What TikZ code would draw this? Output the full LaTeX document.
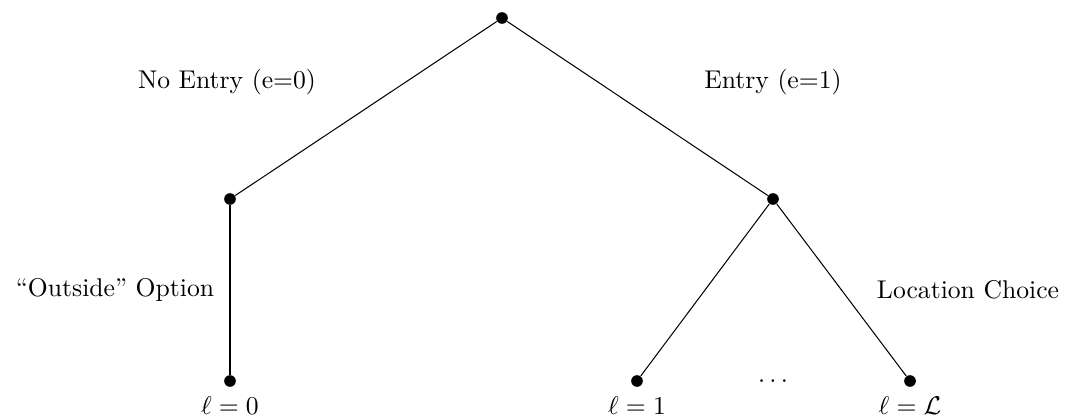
\documentclass[tikz,border=0pt]{standalone}
\usetikzlibrary{positioning}

\begin{document}
\begin{tikzpicture}[x=0.0137cm,y=-0.0137cm,dot/.style={circle,fill=black,inner sep=0pt,minimum size=.16cm},lbl/.style={font=\normalsize}]
\useasboundingbox (0,0) rectangle (1071,419);
\node[dot] (root) at (502,18) {};
\node[dot] (noentry) at (230,199) {};
\node[dot] (entry) at (773,199) {};
\node[dot] (out) at (230,381) {};
\node[dot] (loc1) at (637,381) {};
\node[dot] (locL) at (910,381) {};
\draw (root) -- (noentry);
\draw (root) -- (entry);
\draw (noentry) -- (out);
\draw (entry) -- (loc1);
\draw (entry) -- (locL);
\node[lbl] (noentrytxt) at (227,82) {No Entry (e=0)};
\node[lbl] (entrytxt) at (773,82) {Entry (e=1)};
\node[lbl] (outtxt) at (115,290) {``Outside'' Option};
\node[lbl] (loctxt) at (968,290) {Location Choice};
\node[lbl] (l0) at (230,406) {$\ell=0$};
\node[lbl] (l1) at (637,406) {$\ell=1$};
\node[lbl] (lL) at (910,406) {$\ell=\mathcal{L}$};
\node[lbl] (dots) at (773,382) {$\cdots$};
\end{tikzpicture}
\end{document}
